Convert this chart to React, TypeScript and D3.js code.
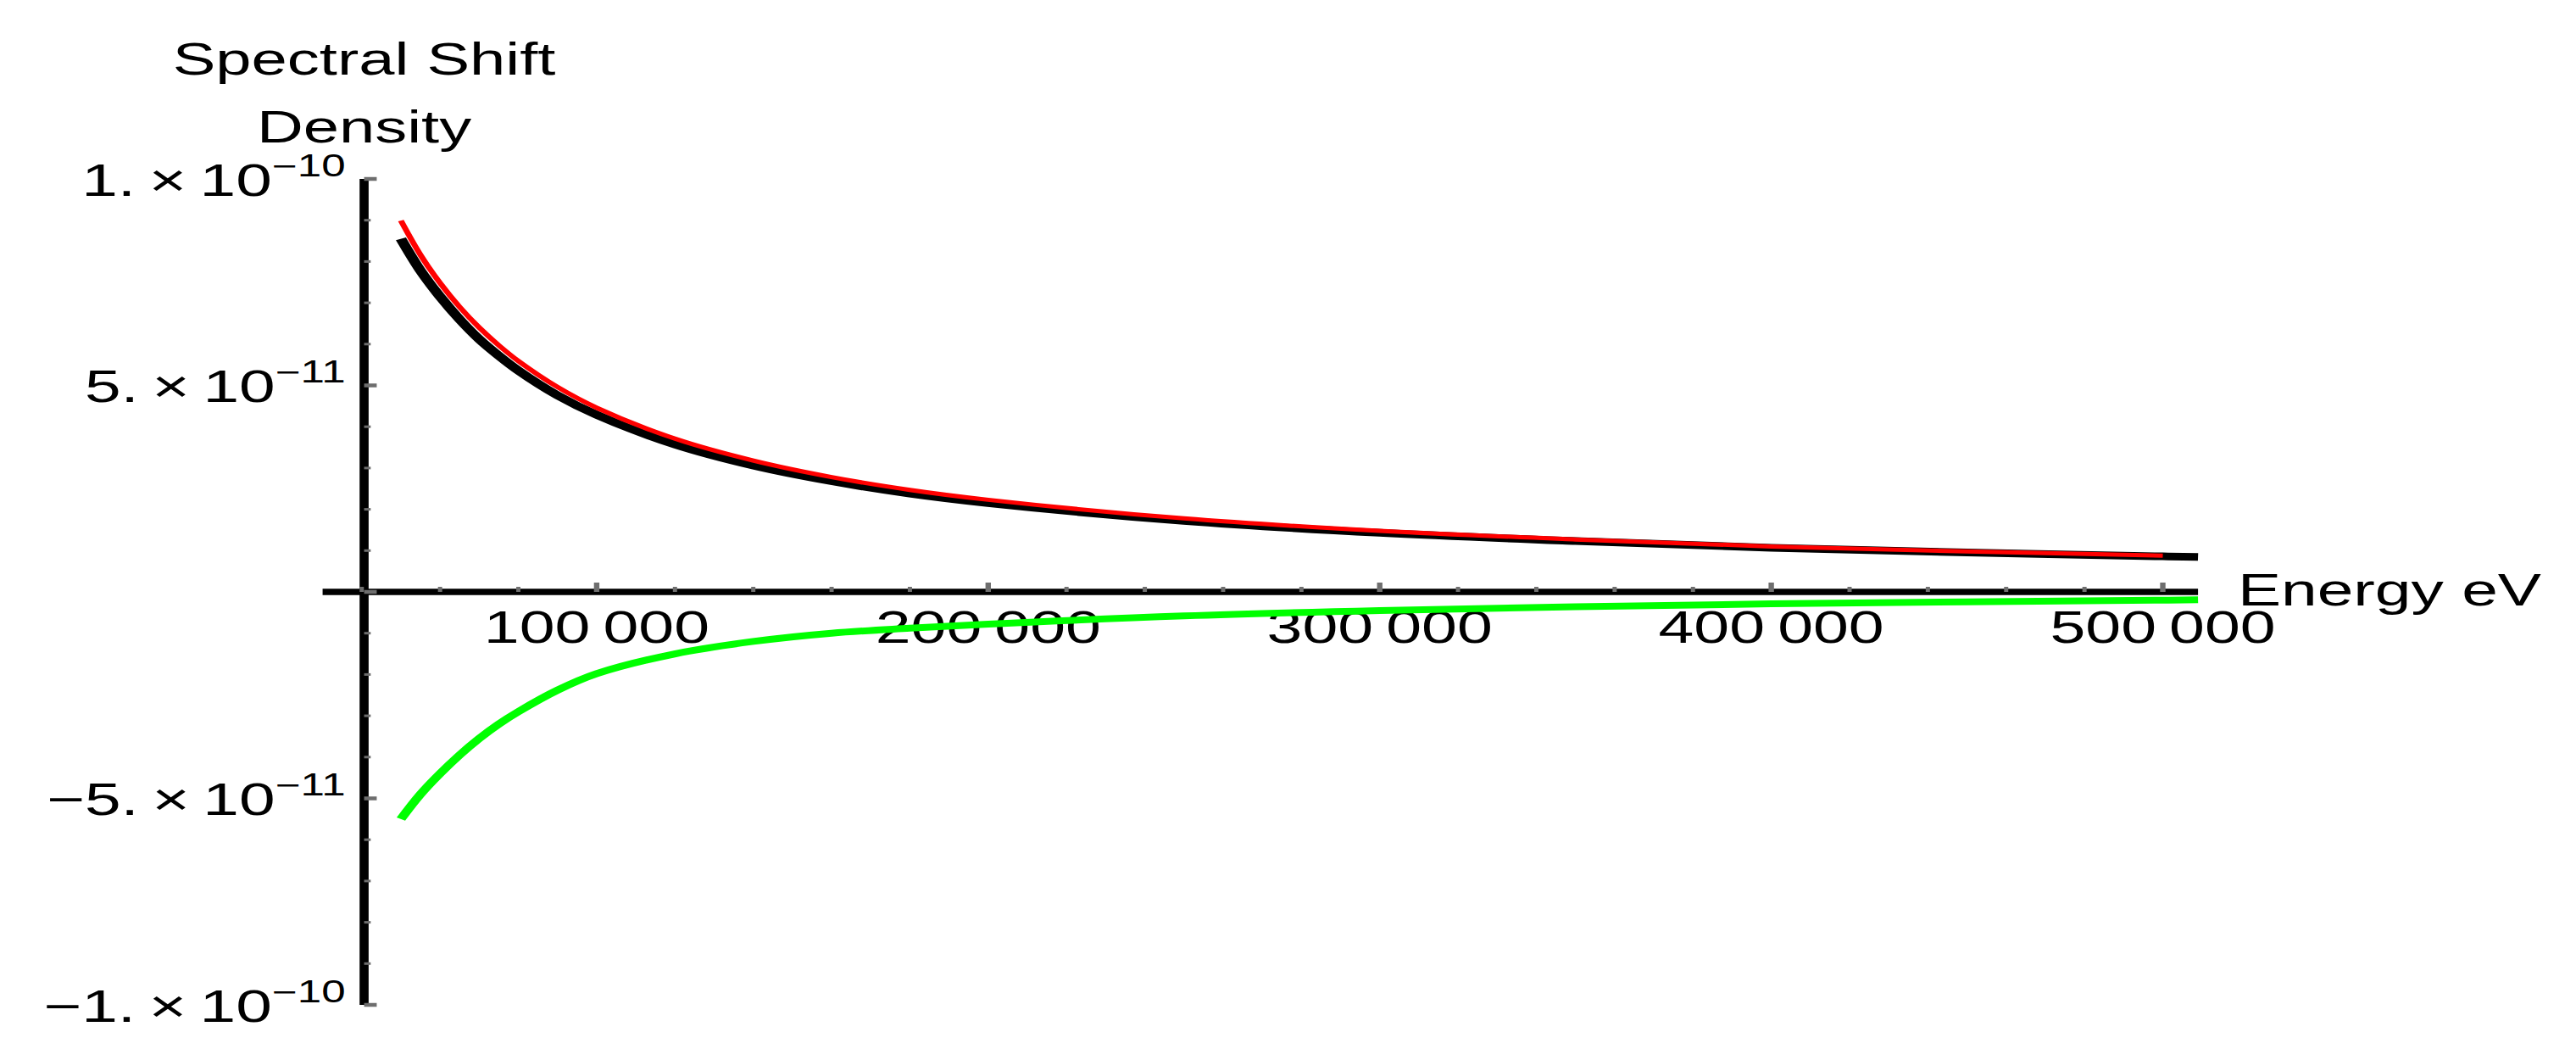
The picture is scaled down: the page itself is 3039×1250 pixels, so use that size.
import React, { useEffect, useRef } from "react";
import * as d3 from "d3";

// energies in eV (x axis)
const energy = [50000, 55000, 60000, 65000, 70000, 75000, 80000, 90000, 100000, 120000, 140000, 160000, 180000, 200000, 250000, 300000, 350000, 400000, 450000, 500000, 509000];
// spectral shift density, units of 1e-11
const blackShift = [8.55, 7.78, 7.15, 6.6, 6.12, 5.72, 5.36, 4.76, 4.29, 3.57, 3.06, 2.68, 2.38, 2.15, 1.72, 1.43, 1.23, 1.07, 0.955, 0.86, 0.845];
const redShift = [8.99, 8.16, 7.48, 6.9, 6.4, 5.97, 5.59, 4.96, 4.46, 3.71, 3.18, 2.78, 2.47, 2.23, 1.78, 1.48, 1.27, 1.1, 0.98, 0.88, null];
const greenShift = [-5.5, -4.9, -4.4, -3.95, -3.55, -3.2, -2.9, -2.38, -1.98, -1.5, -1.2, -1.0, -0.88, -0.78, -0.58, -0.45, -0.36, -0.29, -0.24, -0.2, -0.19];

const xTickValues = [100000, 200000, 300000, 400000, 500000];
const xTickLabels = ["100\u2009000", "200\u2009000", "300\u2009000", "400\u2009000", "500\u2009000"];
const yTickValues = [1e-10, 5e-11, -5e-11, -1e-10];
const yTickMantissa = ["1.", "5.", "\u22125.", "\u22121."];
const yTickExponent = ["\u221210", "\u221211", "\u221211", "\u221210"];

const App = () => {
  const svgRef = useRef<SVGSVGElement | null>(null);
  const w = 3039;
  const h = 1250;
  const vbw = 2140; // picture is stretched horizontally
  const font = "'Liberation Sans', Arial, sans-serif";
  const tickColor = "#6e6e6e";

  useEffect(() => {
    d3.select(svgRef.current).selectAll("*").remove();

    const svg = d3
      .select(svgRef.current)
      .attr("viewBox", `0 0 ${vbw} ${h}`)
      .attr("preserveAspectRatio", "none")
      .style("background-color", "white");

    const xScale = d3.scaleLinear().domain([30000, 509000]).range([268, 1826]);
    const yScale = d3.scaleLinear().domain([-1e-10, 1e-10]).range([1185, 211]);
    const axisX = xScale(40600);
    const y0 = yScale(0);

    // axes
    svg.append("line")
      .attr("x1", xScale.range()[0]).attr("x2", xScale.range()[1])
      .attr("y1", y0).attr("y2", y0)
      .attr("stroke", "black").attr("stroke-width", 7.5);
    svg.append("line")
      .attr("x1", axisX).attr("x2", axisX)
      .attr("y1", yScale(-1e-10)).attr("y2", yScale(1e-10))
      .attr("stroke", "black").attr("stroke-width", 7.5);

    // y ticks (major every 5e-11, minor every 1e-11)
    const yMinor = d3.range(-10, 11);
    svg.selectAll(".ytick")
      .data(yMinor)
      .enter()
      .append("line")
      .attr("class", "ytick")
      .attr("x1", axisX)
      .attr("x2", (k) => (k % 5 === 0 ? axisX + 10.5 : axisX + 5.5))
      .attr("y1", (k) => yScale(k * 1e-11))
      .attr("y2", (k) => yScale(k * 1e-11))
      .attr("stroke", tickColor)
      .attr("stroke-width", (k) => (k % 5 === 0 ? 4.5 : 3));

    // x ticks
    const xMinor = d3.range(40000, 509000, 20000);
    svg.selectAll(".xtick")
      .data(xMinor)
      .enter()
      .append("line")
      .attr("class", "xtick")
      .attr("x1", (d) => xScale(d))
      .attr("x2", (d) => xScale(d))
      .attr("y1", y0)
      .attr("y2", (d) => (d % 100000 === 0 ? y0 - 11 : y0 - 6))
      .attr("stroke", tickColor)
      .attr("stroke-width", (d) => (d % 100000 === 0 ? 4.5 : 3.5));

    // tick labels
    svg.selectAll(".xlabel")
      .data(xTickValues)
      .enter()
      .append("text")
      .attr("class", "xlabel")
      .attr("x", (d) => xScale(d))
      .attr("y", 758)
      .attr("text-anchor", "middle")
      .style("font-family", font)
      .style("font-size", "53px")
      .text((d, i) => xTickLabels[i]);

    yTickValues.forEach((v, i) => {
      const t = svg.append("text")
        .attr("x", 287)
        .attr("y", yScale(v) + 20)
        .attr("text-anchor", "end")
        .style("font-family", font)
        .style("font-size", "54px");
      t.append("tspan").text(`${yTickMantissa[i]}\u2009\u00d7\u200910`);
      t.append("tspan").attr("dy", -23).style("font-size", "36px").text(yTickExponent[i]);
    });

    // axis labels
    svg.append("text")
      .attr("x", axisX).attr("y", 88)
      .attr("text-anchor", "middle")
      .style("font-family", font).style("font-size", "53.5px")
      .text("Spectral Shift");
    svg.append("text")
      .attr("x", axisX).attr("y", 168)
      .attr("text-anchor", "middle")
      .style("font-family", font).style("font-size", "53.5px")
      .text("Density");
    svg.append("text")
      .attr("x", 1859).attr("y", 714)
      .style("font-family", font).style("font-size", "54px")
      .text("Energy eV");

    // curves
    const makeLine = (vals: (number | null)[]) =>
      d3.line<number>()
        .defined((d, i) => vals[i] !== null)
        .x((d, i) => xScale(energy[i]))
        .y((d, i) => yScale((vals[i] as number) * 1e-11))
        .curve(d3.curveCatmullRom.alpha(0.5))(energy);

    svg.append("path")
      .attr("d", makeLine(greenShift))
      .attr("fill", "none").attr("stroke", "#00ff00").attr("stroke-width", 8);
    svg.append("path")
      .attr("d", makeLine(blackShift))
      .attr("fill", "none").attr("stroke", "black").attr("stroke-width", 9);
    svg.append("path")
      .attr("d", makeLine(redShift))
      .attr("fill", "none").attr("stroke", "#ff0000").attr("stroke-width", 5);
  }, []);

  return (
    <svg
      ref={svgRef}
      width={w}
      height={h}
      style={{ position: "absolute", left: 0, top: 0 }}
    ></svg>
  );
};

export default App;
